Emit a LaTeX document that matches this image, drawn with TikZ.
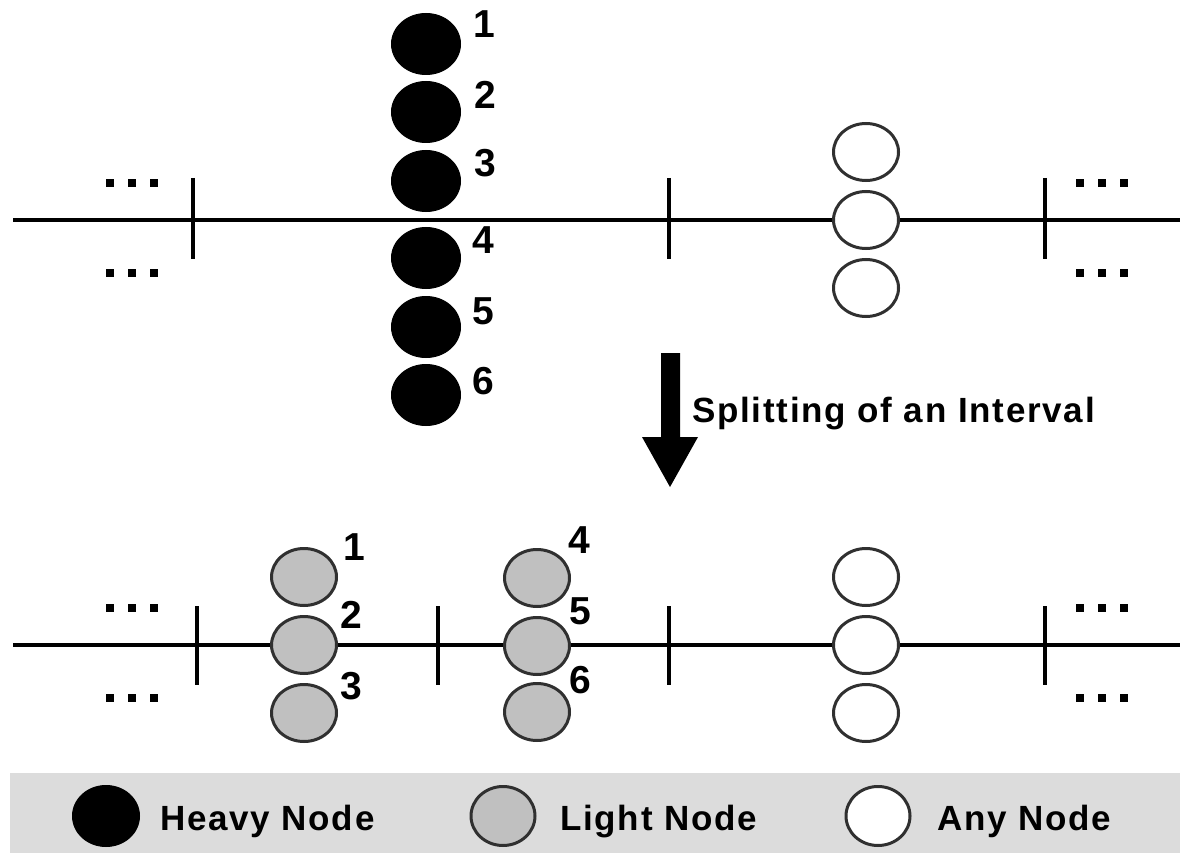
\documentclass[tikz,border=0pt]{standalone}
\usepackage{fontspec}
\setmainfont{Liberation Sans}
\newfontfamily\trackfont[LetterSpace=5]{Liberation Sans}
\usetikzlibrary{shapes.geometric}
\definecolor{bandgray}{HTML}{DCDCDC}
\definecolor{lightfill}{HTML}{C0C0C0}
\definecolor{rimgray}{HTML}{303030}

\begin{document}
\begin{tikzpicture}[x=1pt,y=-1pt,
  axis/.style={line width=4pt},
  tickmark/.style={line width=4pt},
  heavy/.style={ellipse, minimum width=69pt, minimum height=61pt, inner sep=0pt,
    fill=black, draw=black, line width=1pt},
  light/.style={ellipse, minimum width=65pt, minimum height=57pt, inner sep=0pt,
    fill=lightfill, draw=rimgray, line width=3pt},
  anynode/.style={ellipse, minimum width=65pt, minimum height=57pt, inner sep=0pt,
    fill=white, draw=rimgray, line width=3pt},
  num/.style={inner sep=0pt, font=\fontsize{39}{39}\selectfont\bfseries},
  caption/.style={inner sep=0pt, anchor=base west,
    font=\fontsize{35}{35}\selectfont\trackfont\bfseries},
  dotmark/.style={rectangle, fill=black, minimum size=8pt, inner sep=0pt}
]
\useasboundingbox (0,0) rectangle (1180,853);

% ---------- upper row: before the split ----------
\coordinate (ta) at (13,220);
\coordinate (tb) at (1180,220);
\draw[axis] (ta) -- (tb);
\foreach \x/\n in {193/t1,669/t2,1045/t3}{
  \coordinate (\n u) at (\x,178);
  \coordinate (\n d) at (\x,259);
  \draw[tickmark] (\n u) -- (\n d);
}
% continuation marks
\foreach \x/\n in {110/a,132/b,154/c,1080/d,1102/e,1124/f}{
  \node[dotmark] (tdu\n) at (\x,183) {};
  \node[dotmark] (tdd\n) at (\x,273) {};
}

% heavy nodes on the interval
\node[heavy] (h1) at (426,44) {};
\node[heavy] (h2) at (426,112) {};
\node[heavy] (h3) at (426,181) {};
\node[heavy] (h4) at (426,258) {};
\node[heavy] (h5) at (426,327) {};
\node[heavy] (h6) at (426,395) {};
\node[num] (n1) at (484,24) {1};
\node[num] (n2) at (485,95) {2};
\node[num] (n3) at (485,163) {3};
\node[num] (n4) at (483,240) {4};
\node[num] (n5) at (483,311) {5};
\node[num] (n6) at (483,381) {6};

% any nodes
\node[anynode] (a1) at (866,152) {};
\node[anynode] (a2) at (866,220) {};
\node[anynode] (a3) at (866,288) {};

% ---------- split arrow ----------
\fill (661,353) -- (680,353) -- (680,437) -- (698,437) -- (670,487)
  -- (642,437) -- (661,437) -- cycle;
\node[caption] (split) at (692,422) {Splitting of an Interval};

% ---------- lower row: after the split ----------
\coordinate (ba) at (13,645);
\coordinate (bb) at (1180,645);
\draw[axis] (ba) -- (bb);
\foreach \x/\n in {197/b1,438/b2,669/b3,1045/b4}{
  \coordinate (\n u) at (\x,606);
  \coordinate (\n d) at (\x,685);
  \draw[tickmark] (\n u) -- (\n d);
}
\foreach \x/\n in {110/a,132/b,154/c,1080/d,1102/e,1124/f}{
  \node[dotmark] (bdu\n) at (\x,608) {};
  \node[dotmark] (bdd\n) at (\x,698) {};
}

% light nodes, first half
\node[light] (l1) at (304,577) {};
\node[light] (l2) at (304,645) {};
\node[light] (l3) at (304,713) {};
\node[num] (m1) at (354,547) {1};
\node[num] (m2) at (351,615) {2};
\node[num] (m3) at (351,686) {3};

% light nodes, second half
\node[light] (l4) at (537,578) {};
\node[light] (l5) at (537,646) {};
\node[light] (l6) at (537,712) {};
\node[num] (m4) at (579,540) {4};
\node[num] (m5) at (580,611) {5};
\node[num] (m6) at (580,680) {6};

% any nodes
\node[anynode] (b1) at (866,577) {};
\node[anynode] (b2) at (866,645) {};
\node[anynode] (b3) at (866,713) {};

% ---------- legend ----------
\fill[bandgray] (10,773) rectangle (1180,853);
\node[heavy, minimum width=67pt] (kh) at (106,816) {};
\node[caption] (kht) at (160,830) {Heavy Node};
\node[light, minimum width=64pt, minimum height=59pt] (kl) at (503,816) {};
\node[caption] (klt) at (560,830) {Light Node};
\node[anynode, minimum width=64pt, minimum height=59pt] (ka) at (878,816) {};
\node[caption] (kat) at (937,830) {Any Node};
\end{tikzpicture}
\end{document}
